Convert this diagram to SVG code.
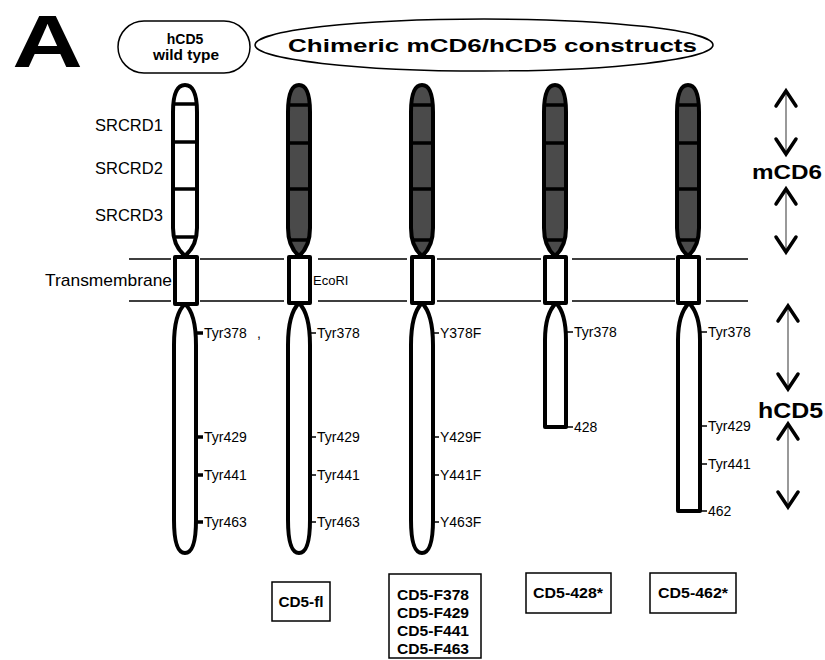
<svg xmlns="http://www.w3.org/2000/svg" width="825" height="660" viewBox="0 0 825 660">
<style>
text{font-family:"Liberation Sans",Arial,sans-serif;fill:#000}
.b{font-weight:bold}
.lab{font-size:14px}
.dom{font-size:16.5px}
.out{stroke:#000;stroke-width:4;stroke-linejoin:round}
.wt{fill:#fff}
.dk{fill:#4a4a4a}
.div{stroke:#000;stroke-width:3.5}
.tk{stroke:#000;stroke-width:1.3}
.tkb{stroke:#000;stroke-width:3.5}
.mem{stroke:#000;stroke-width:1.3}
.arr{stroke:#555;stroke-width:1.2;fill:none;marker-start:url(#ah);marker-end:url(#ah)}
.box{fill:#fff;stroke:#000;stroke-width:1.5}
</style>
<defs>
<marker id="ah" markerUnits="userSpaceOnUse" markerWidth="30" markerHeight="30" viewBox="-20 -15 30 30" refX="0" refY="0" orient="auto-start-reverse">
<path d="M-15,-10 L0,0 L-15,10" fill="none" stroke="#000" stroke-width="3.5" stroke-linecap="round" stroke-linejoin="miter"/>
</marker>
</defs>

<!-- header -->
<g id="label-A"><text class="b" font-size="74" text-anchor="middle" transform="translate(47.5,67) scale(1.32,1)">A</text></g>
<g id="hdr-wt">
<rect x="118" y="21" width="132" height="52" rx="26" ry="26" fill="#fff" stroke="#000" stroke-width="1.5"/>
<text class="b" font-size="14" x="185" y="44" text-anchor="middle">hCD5</text>
<text class="b" font-size="14" x="186" y="60" text-anchor="middle" textLength="66" lengthAdjust="spacingAndGlyphs">wild type</text>
</g>
<g id="hdr-chim">
<ellipse cx="484" cy="45" rx="229" ry="26" fill="#fff" stroke="#000" stroke-width="1.5"/>
<text class="b" font-size="18" x="288" y="52" textLength="409" lengthAdjust="spacingAndGlyphs">Chimeric mCD6/hCD5 constructs</text>
</g>

<!-- membrane lines -->
<g id="membrane">
<path class="mem" d="M129,259H171M200,259H284M318,259H407M437,259H541M572,259H675M706,259H748"/>
<path class="mem" d="M129,301H171M200,301H284M318,301H407M437,301H541M572,301H675M706,301H748"/>
</g>

<!-- left labels -->
<g id="labels-left">
<text class="dom" x="95" y="131">SRCRD1</text>
<text class="dom" x="95" y="174">SRCRD2</text>
<text class="dom" x="95" y="221">SRCRD3</text>
<text font-size="17" x="45" y="286" textLength="127" lengthAdjust="spacingAndGlyphs">Transmembrane</text>
</g>

<!-- column 1: wild type -->
<g id="col-wt">
<path class="out wt" d="M185,85 C193,85 197,95 197,112 L197,228 C197,242 192,250 185,256 C178,250 173,242 173,228 L173,112 C173,95 177,85 185,85 Z"/>
<path class="div" d="M174,104H196M173,142H197M173,189H197M174,237H196"/>
<rect class="out wt" x="175" y="257" width="22" height="47"/>
<path class="out wt" d="M185,304 C192,310 196,322 196,345 L196,520 C196,543 192,553 185,553 C178,553 174,543 174,520 L174,345 C174,322 178,310 185,304 Z"/>
<path class="tkb" d="M196,333H203M196,437H203M196,475H203M196,522H203"/>
<text class="lab" x="204" y="338">Tyr378</text>
<text class="lab" x="257" y="338">,</text>
<text class="lab" x="204" y="442">Tyr429</text>
<text class="lab" x="204" y="480">Tyr441</text>
<text class="lab" x="204" y="527">Tyr463</text>
</g>

<!-- column 2: CD5-fl -->
<g id="col-fl">
<path class="out dk" d="M299,85 C307,85 310,95 310,112 L310,228 C310,242 306,250 299,256 C292,250 288,242 288,228 L288,112 C288,95 291,85 299,85 Z"/>
<path class="div" d="M289,105H309M288,143H310M288,189H310M289,240H309"/>
<rect class="out wt" x="289" y="257" width="21" height="46"/>
<path class="out wt" d="M299,303 C306,310 310,322 310,345 L310,520 C310,543 306,553 299,553 C292,553 288,543 288,520 L288,345 C288,322 292,310 299,303 Z"/>
<text font-size="13" x="313" y="285">EcoRI</text>
<path class="tk" d="M310,333H316M310,437H316M310,475H316M310,522H316"/>
<text class="lab" x="317" y="338">Tyr378</text>
<text class="lab" x="317" y="442">Tyr429</text>
<text class="lab" x="317" y="480">Tyr441</text>
<text class="lab" x="317" y="527">Tyr463</text>
</g>

<!-- column 3: F mutants -->
<g id="col-F">
<path class="out dk" d="M422,85 C430,85 433,95 433,112 L433,228 C433,242 429,250 422,256 C415,250 411,242 411,228 L411,112 C411,95 414,85 422,85 Z"/>
<path class="div" d="M412,105H432M411,143H433M411,189H433M412,240H432"/>
<rect class="out wt" x="412" y="257" width="21" height="46"/>
<path class="out wt" d="M422,303 C429,310 433,322 433,345 L433,520 C433,543 429,553 422,553 C415,553 411,543 411,520 L411,345 C411,322 415,310 422,303 Z"/>
<path class="tk" d="M433,333H439M433,437H439M433,475H439M433,522H439"/>
<text class="lab" x="440" y="338">Y378F</text>
<text class="lab" x="440" y="442">Y429F</text>
<text class="lab" x="440" y="480">Y441F</text>
<text class="lab" x="440" y="527">Y463F</text>
</g>

<!-- column 4: CD5-428* -->
<g id="col-428">
<path class="out dk" d="M555,85 C563,85 566,95 566,112 L566,228 C566,242 562,250 555,256 C548,250 544,242 544,228 L544,112 C544,95 547,85 555,85 Z"/>
<path class="div" d="M545,105H565M544,143H566M544,189H566M545,240H565"/>
<rect class="out wt" x="545" y="257" width="21" height="46"/>
<path class="out wt" d="M556,303 C563,310 566,322 566,340 L566,425 L566,427 L545,427 L545,340 C545,322 549,310 556,303 Z"/>
<path class="tk" d="M566,332H573M566,427H573"/>
<text class="lab" x="574" y="337">Tyr378</text>
<text class="lab" x="574" y="432">428</text>
</g>

<!-- column 5: CD5-462* -->
<g id="col-462">
<path class="out dk" d="M688,85 C696,85 699,95 699,112 L699,228 C699,242 695,250 688,256 C681,250 677,242 677,228 L677,112 C677,95 680,85 688,85 Z"/>
<path class="div" d="M678,105H698M677,143H699M677,189H699M678,240H698"/>
<rect class="out wt" x="678" y="257" width="21" height="46"/>
<path class="out wt" d="M689,303 C696,310 700,322 700,340 L700,511 L678,511 L678,340 C678,322 682,310 689,303 Z"/>
<path class="tk" d="M700,332H707M700,426H707M700,464H707M700,511H707"/>
<text class="lab" x="708" y="337">Tyr378</text>
<text class="lab" x="708" y="431">Tyr429</text>
<text class="lab" x="708" y="469">Tyr441</text>
<text class="lab" x="708" y="516">462</text>
</g>

<!-- region arrows -->
<g id="connectors">
<path class="arr" d="M786,91V154"/>
<path class="arr" d="M786,189V252"/>
<path class="arr" d="M788,306V389"/>
<path class="arr" d="M788,424V507"/>
</g>
<g id="lbl-mCD6"><text class="b" font-size="20" x="752" y="179" textLength="70" lengthAdjust="spacingAndGlyphs">mCD6</text></g>
<g id="lbl-hCD5"><text class="b" font-size="22" x="758" y="418" textLength="65" lengthAdjust="spacingAndGlyphs">hCD5</text></g>

<!-- construct name boxes -->
<g id="box-fl">
<rect class="box" x="272" y="582" width="58" height="39"/>
<text class="b" font-size="14" x="301" y="607" text-anchor="middle" textLength="45" lengthAdjust="spacingAndGlyphs">CD5-fl</text>
</g>
<g id="box-F">
<rect class="box" x="389" y="574" width="92" height="84"/>
<text class="b" font-size="14" x="433" y="600" text-anchor="middle" textLength="72" lengthAdjust="spacingAndGlyphs">CD5-F378</text>
<text class="b" font-size="14" x="433" y="618" text-anchor="middle" textLength="72" lengthAdjust="spacingAndGlyphs">CD5-F429</text>
<text class="b" font-size="14" x="433" y="636" text-anchor="middle" textLength="72" lengthAdjust="spacingAndGlyphs">CD5-F441</text>
<text class="b" font-size="14" x="433" y="654" text-anchor="middle" textLength="72" lengthAdjust="spacingAndGlyphs">CD5-F463</text>
</g>
<g id="box-428">
<rect class="box" x="526" y="573" width="85" height="40"/>
<text class="b" font-size="14" x="568" y="598" text-anchor="middle" textLength="70" lengthAdjust="spacingAndGlyphs">CD5-428*</text>
</g>
<g id="box-462">
<rect class="box" x="650" y="573" width="86" height="40"/>
<text class="b" font-size="14" x="693" y="598" text-anchor="middle" textLength="70" lengthAdjust="spacingAndGlyphs">CD5-462*</text>
</g>
</svg>
